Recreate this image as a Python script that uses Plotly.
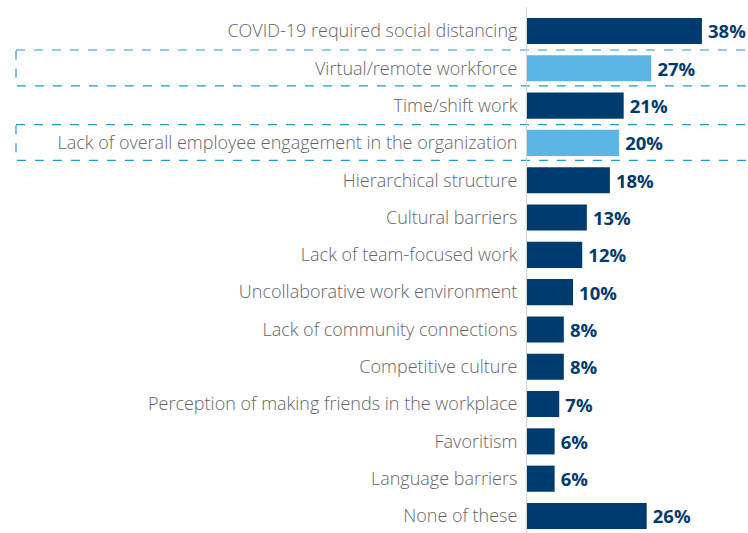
import plotly.graph_objects as go

categories = [
    "COVID-19 required social distancing",
    "Virtual/remote workforce",
    "Time/shift work",
    "Lack of overall employee engagement in the organization",
    "Hierarchical structure",
    "Cultural barriers",
    "Lack of team-focused work",
    "Uncollaborative work environment",
    "Lack of community connections",
    "Competitive culture",
    "Perception of making friends in the workplace",
    "Favoritism",
    "Language barriers",
    "None of these",
]
values = [38, 27, 21, 20, 18, 13, 12, 10, 8, 8, 7, 6, 6, 26]
highlighted = ["Virtual/remote workforce",
               "Lack of overall employee engagement in the organization"]

NAVY = "#003b6f"
LIGHT = "#5cb6e4"
colors = [LIGHT if c in highlighted else NAVY for c in categories]

fig = go.Figure(go.Bar(
    x=values, y=categories, orientation="h",
    marker=dict(color=colors, line=dict(width=0)),
    width=0.70,
    text=[f"\u2009{v}%" for v in values],
    textposition="outside",
    textfont=dict(family="Open Sans", size=18.5, color=NAVY, weight="bold"),
    cliponaxis=False,
    hoverinfo="skip",
))

shapes = []
for c in highlighted:
    i = categories.index(c)
    shapes.append(dict(
        type="rect", xref="paper", yref="y",
        x0=(16 - 527) / 221, x1=1.05, y0=i - 0.49, y1=i + 0.47,
        line=dict(color="#1f9cc4", width=1.2, dash="dash"),
        fillcolor="rgba(0,0,0,0)", layer="below",
    ))

fig.update_layout(
    width=748, height=533,
    margin=dict(l=527, r=0, t=7, b=0),
    paper_bgcolor="white", plot_bgcolor="white",
    showlegend=False,
    shapes=shapes,
    xaxis=dict(range=[0, 48], visible=False, fixedrange=True),
    yaxis=dict(
        type="category",
        range=[13.456, -0.643],
        showline=True, linecolor="#d4d4d4", linewidth=1,
        showgrid=False, ticks="", ticklabelstandoff=5,
        tickfont=dict(family="Open Sans", size=18, color="#666666", weight=300),
        fixedrange=True, automargin=False,
    ),
)

fig.write_html("out.html", config={"displayModeBar": False},
               post_script="document.body.style.margin='0';")
